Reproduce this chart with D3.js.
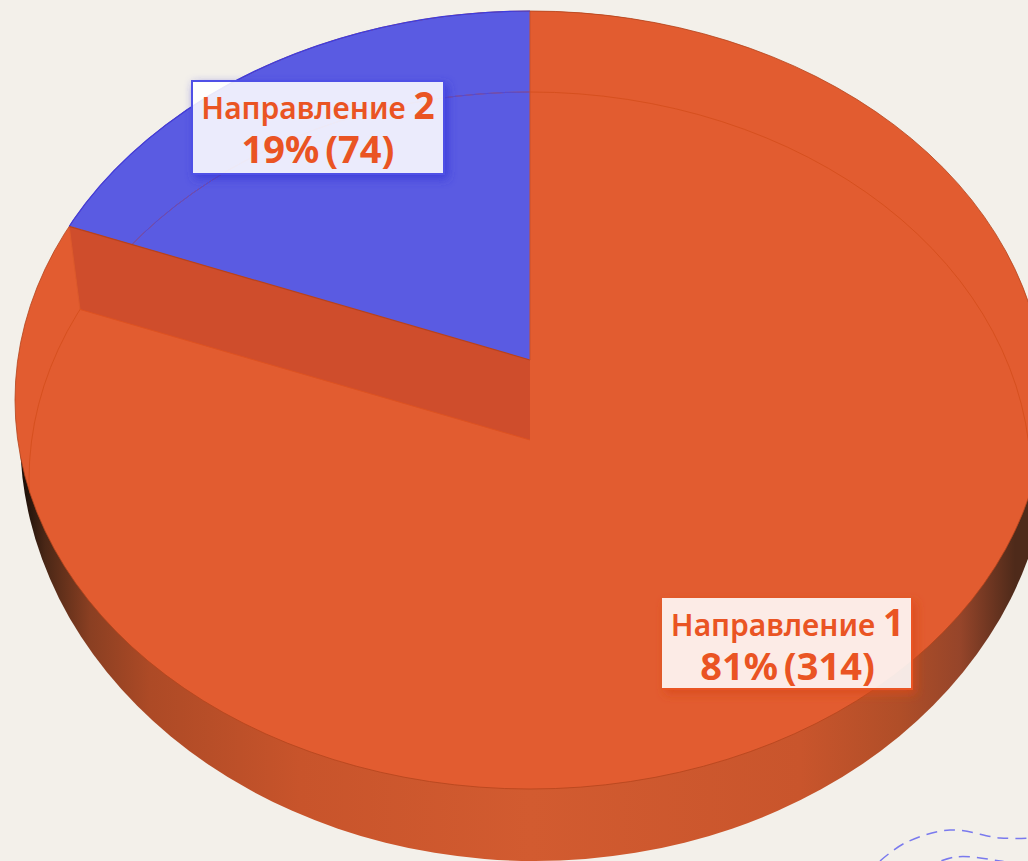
<!DOCTYPE html>
<html>
<head>
<meta charset="utf-8">
<script src="https://cdn.jsdelivr.net/npm/d3@7"></script>
<style>
  html, body { margin: 0; padding: 0; background: #f3f0ea; overflow: hidden; }
</style>
</head>
<body>
<div id="pie"></div>
<script>
// chart values
const categories = ['Направление 1', 'Направление 2'];
const counts = [314, 74];
const sliceColors = ['#e25c30', '#5a5be2'];
const shadowColors = ['#d8481a', '#3535d8'];

// the wavy dashed decoration in the bottom corner
const waveA = [[880, 861], [905, 843], [950, 830], [1000, 838], [1032, 838]];
const waveB = [[925, 868], [955, 857], [1000, 861], [1032, 868]];

const width = 1028; const height = 861;

// perspective set up of the disc
const rim = {cx: 530, cy: 400, rx: 515, ry: 389};      // upper rim
const inner = {cx: 530, cy: 480, rx: 501, ry: 388};    // faint lower rim
const side = {cx: 535, cy: 436, rx: 515, ry: 425};     // outline of the side wall
const apex = {x: 530, y: 360};
const wallDepth = 80;
const wedgeX = 470; const wedgeY = 349;

const svg = d3.select('#pie')
  .append('svg')
    .attr('width', width)
    .attr('height', height)
    .style('display', 'block');

const defs = svg.append('defs');

// side wall shading, dark at both ends
const wallGrad = defs.append('linearGradient')
    .attr('id', 'wallGrad')
    .attr('gradientUnits', 'userSpaceOnUse')
    .attr('x1', 15).attr('x2', 1045).attr('y1', 0).attr('y2', 0);
[[24, '#1d1009'], [45, '#4a2716'], [90, '#8a3f22'], [150, '#ad4a26'], [300, '#c8542b'],
 [530, '#d25b30'], [800, '#c9552c'], [900, '#b04e28'], [960, '#96452a'], [1015, '#4e2a1a']]
  .forEach(s => wallGrad.append('stop')
    .attr('offset', (s[0] - 15) / 1030)
    .attr('stop-color', s[1]));

defs.append('clipPath').attr('id', 'discClip')
  .append('ellipse')
    .attr('cx', rim.cx).attr('cy', rim.cy)
    .attr('rx', rim.rx).attr('ry', rim.ry);

// shadow only, knocked out under the box so the box itself stays see-through
function addShadow(id, color) {
  const f = defs.append('filter')
      .attr('id', id)
      .attr('x', '-15%').attr('y', '-30%').attr('width', '130%').attr('height', '160%');
  f.append('feGaussianBlur').attr('in', 'SourceAlpha').attr('stdDeviation', 5).attr('result', 'blur');
  f.append('feOffset').attr('in', 'blur').attr('dx', 3).attr('dy', 4).attr('result', 'moved');
  f.append('feFlood').attr('flood-color', color).attr('flood-opacity', 0.75).attr('result', 'tint');
  f.append('feComposite').attr('in', 'tint').attr('in2', 'moved').attr('operator', 'in').attr('result', 'soft');
  f.append('feComposite').attr('in', 'soft').attr('in2', 'SourceAlpha').attr('operator', 'out');
}
addShadow('shadow0', shadowColors[0]);
addShadow('shadow1', shadowColors[1]);

// side wall
svg.append('ellipse')
    .attr('cx', side.cx).attr('cy', side.cy)
    .attr('rx', side.rx).attr('ry', side.ry)
    .attr('fill', 'url(#wallGrad)');

// slices
const pie = d3.pie().sort(null)(counts);
const wedge = d3.arc().innerRadius(0).outerRadius(3);

const disc = svg.append('g').attr('clip-path', 'url(#discClip)');
disc.selectAll('path.slice')
  .data(pie)
  .join('path')
    .attr('class', 'slice')
    .attr('d', wedge)
    .attr('transform', `translate(${apex.x},${apex.y}) scale(${wedgeX},${wedgeY})`)
    .attr('fill', (d, i) => sliceColors[i]);

// clip of the second slice, to recolour the rim lines that run over it
defs.append('clipPath').attr('id', 'blueClip')
  .append('path')
    .attr('d', wedge(pie[1]))
    .attr('transform', `translate(${apex.x},${apex.y}) scale(${wedgeX},${wedgeY})`);

// where a ray from (x,y) at the given pie angle leaves an ellipse
function hitEllipse(e, x, y, angle) {
  const dx = Math.sin(angle) * wedgeX;
  const dy = -Math.cos(angle) * wedgeY;
  const px = (x - e.cx) / e.rx; const py = (y - e.cy) / e.ry;
  const qx = dx / e.rx; const qy = dy / e.ry;
  const a = qx * qx + qy * qy;
  const b = 2 * (px * qx + py * qy);
  const c = px * px + py * py - 1;
  const t = (-b + Math.sqrt(b * b - 4 * a * c)) / (2 * a);
  return [x + dx * t, y + dy * t];
}

const cut = pie[1].startAngle;
const outerCut = hitEllipse(rim, apex.x, apex.y, cut);
const innerCut = hitEllipse(inner, apex.x, apex.y + wallDepth, cut);
const apexLow = [apex.x, apex.y + wallDepth];

// faint lower rim
disc.append('ellipse')
    .attr('cx', inner.cx).attr('cy', inner.cy)
    .attr('rx', inner.rx).attr('ry', inner.ry)
    .attr('fill', 'none')
    .attr('stroke', '#d6501f')
    .attr('stroke-width', 1);
disc.append('g').attr('clip-path', 'url(#blueClip)')
  .append('ellipse')
    .attr('cx', inner.cx).attr('cy', inner.cy)
    .attr('rx', inner.rx).attr('ry', inner.ry)
    .attr('fill', 'none')
    .attr('stroke', '#4b4ade')
    .attr('stroke-width', 1);

// inner wall under the raised slice
const line = d3.line();
disc.append('path')
    .attr('d', line([outerCut, [apex.x, apex.y], apexLow, innerCut]) + 'Z')
    .attr('fill', '#cf4d2c');
disc.append('path')
    .attr('d', line([innerCut, apexLow]))
    .attr('fill', 'none')
    .attr('stroke', '#dd5222')
    .attr('stroke-width', 1);
disc.append('path')
    .attr('d', line([outerCut, innerCut]))
    .attr('fill', 'none')
    .attr('stroke', '#dc5a2c')
    .attr('stroke-width', 1);
disc.append('path')
    .attr('d', line([outerCut, [apex.x, apex.y]]))
    .attr('fill', 'none')
    .attr('stroke', '#b8421c')
    .attr('stroke-width', 1.2);
disc.append('path')
    .attr('d', line([[apex.x, rim.cy - rim.ry], [apex.x, apex.y]]))
    .attr('fill', 'none')
    .attr('stroke', '#c9502a')
    .attr('stroke-width', 1);

// upper rim
svg.append('ellipse')
    .attr('cx', rim.cx).attr('cy', rim.cy)
    .attr('rx', rim.rx).attr('ry', rim.ry)
    .attr('fill', 'none')
    .attr('stroke', '#b4451d')
    .attr('stroke-opacity', 0.8)
    .attr('stroke-width', 1);
svg.append('g').attr('clip-path', 'url(#blueClip)')
  .append('ellipse')
    .attr('cx', rim.cx).attr('cy', rim.cy)
    .attr('rx', rim.rx).attr('ry', rim.ry)
    .attr('fill', 'none')
    .attr('stroke', '#3d3ce0')
    .attr('stroke-width', 1.2);

// labels
const total = d3.sum(counts);
const boxes = [
  {x: 662, y: 598, w: 251, h: 92},
  {x: 191, y: 80, w: 254, h: 95}
];

const label = svg.selectAll('g.label')
  .data(pie)
  .join('g')
    .attr('class', 'label')
    .attr('transform', (d, i) => `translate(${boxes[i].x},${boxes[i].y})`);

label.append('rect')
    .attr('width', (d, i) => boxes[i].w)
    .attr('height', (d, i) => boxes[i].h)
    .attr('fill', '#000')
    .attr('filter', (d, i) => `url(#shadow${i})`);
label.append('rect')
    .attr('width', (d, i) => boxes[i].w)
    .attr('height', (d, i) => boxes[i].h)
    .attr('fill', '#fff')
    .attr('fill-opacity', 0.88);
// first box has an edge on two sides only, second one all round
label.append('path')
    .attr('d', (d, i) => {
      const w = boxes[i].w; const h = boxes[i].h;
      return i === 0
        ? line([[0, h - 1], [w - 1, h - 1], [w - 1, 0]])
        : line([[1, 1], [w - 1, 1], [w - 1, h - 1], [1, h - 1]]) + 'Z';
    })
    .attr('fill', 'none')
    .attr('stroke', (d, i) => i === 0 ? '#ea5423' : '#4f50e6')
    .attr('stroke-width', 2);

const labelFont = '"Noto Sans", "Open Sans", sans-serif';
const title = label.append('text')
    .attr('x', (d, i) => boxes[i].w / 2)
    .attr('y', (d, i) => i === 0 ? 38 : 39)
    .attr('text-anchor', 'middle')
    .attr('font-family', labelFont)
    .attr('fill', '#ea5423');
title.append('tspan')
    .attr('font-size', 30)
    .attr('font-weight', 600)
    .text((d, i) => categories[i].split(' ')[0] + ' ');
title.append('tspan')
    .attr('font-size', 37)
    .attr('font-weight', 700)
    .text((d, i) => categories[i].split(' ')[1]);

label.append('text')
    .attr('x', (d, i) => boxes[i].w / 2)
    .attr('y', (d, i) => i === 0 ? 82 : 83)
    .attr('text-anchor', 'middle')
    .attr('font-family', labelFont)
    .attr('font-weight', 700)
    .attr('font-size', 38)
    .attr('word-spacing', -4)
    .attr('fill', '#ea5423')
    .text(d => `${Math.round(d.value / total * 100)}% (${d.value})`);

// decoration
const wave = d3.line().curve(d3.curveCatmullRom);
svg.selectAll('path.wave')
  .data([waveA, waveB])
  .join('path')
    .attr('class', 'wave')
    .attr('d', d => wave(d))
    .attr('fill', 'none')
    .attr('stroke', '#7a7aee')
    .attr('stroke-width', 1.5)
    .attr('stroke-dasharray', '11 7');
</script>
</body>
</html>
